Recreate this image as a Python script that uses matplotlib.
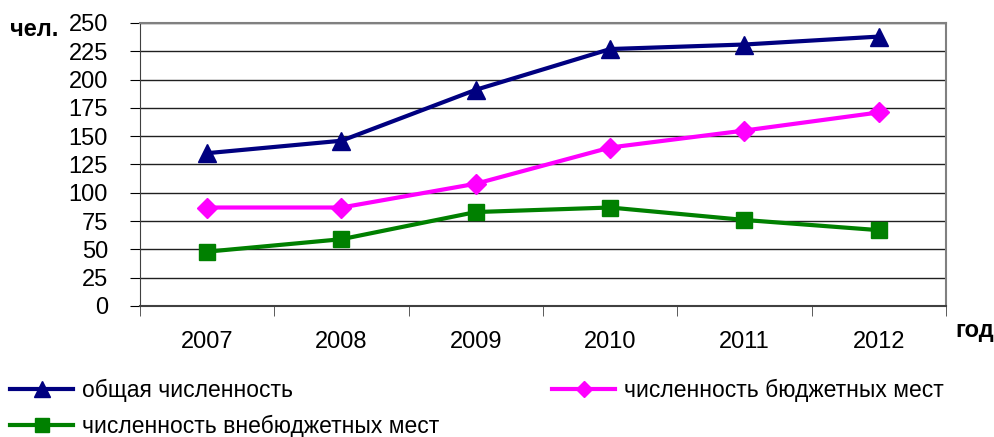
import numpy as np
import matplotlib
matplotlib.use("Agg")
import matplotlib.pyplot as plt

years = ["2007", "2008", "2009", "2010", "2011", "2012"]
total = [135, 146, 191, 227, 231, 238]
budget = [87, 87, 108, 140, 155, 171]
extra = [48, 59, 83, 87, 76, 67]

plt.rcParams["font.family"] = ["Liberation Sans", "DejaVu Sans"]

fig = plt.figure(figsize=(9.95, 4.37), dpi=100)
ax = fig.add_axes([140 / 995, 1 - 306 / 437, 806 / 995, 283 / 437])

x = np.arange(len(years))
l1, = ax.plot(x, total, color="#000080", lw=3, marker="^", ms=13, label="общая численность")
l2, = ax.plot(x, budget, color="#ff00ff", lw=3, marker="D", ms=10, label="численность бюджетных мест")
l3, = ax.plot(x, extra, color="#008000", lw=3, marker="s", ms=12, label="численность внебюджетных мест")

ax.set_xlim(-0.5, len(years) - 0.5)
ax.set_ylim(0, 250)
ax.set_yticks(np.arange(0, 251, 25))
ax.set_xticks(x)
ax.set_xticklabels(years)
ax.set_xticks(np.arange(-0.5, len(years), 1), minor=True)
ax.tick_params(axis="x", which="major", length=0, pad=18, labelsize=17)
ax.tick_params(axis="x", which="minor", length=7, direction="out", color="#404040")
ax.tick_params(axis="y", length=7, direction="out", labelsize=17, pad=16)
ax.grid(axis="y", color="#202020", lw=1)
ax.set_axisbelow(True)
for s in ["top", "right"]:
    ax.spines[s].set_color("#808080")
    ax.spines[s].set_linewidth(1.5)
ax.spines["left"].set_color("#404040")
ax.spines["bottom"].set_color("#404040")
ax.spines["bottom"].set_linewidth(1.5)

fig.text(10 / 995, 1 - 30 / 437, "чел.", fontsize=17, fontweight="bold", va="center")
fig.text(955 / 995, 1 - 331 / 437, "год", fontsize=17, fontweight="bold", va="center")

leg_kw = dict(loc="upper left", frameon=False, fontsize=16.5, handlelength=2.75,
              handletextpad=0.4, labelspacing=0.55, borderaxespad=0, borderpad=0,
              markerscale=0.85)
fig.legend([l1, l3], [l1.get_label(), l3.get_label()],
           bbox_to_anchor=(10 / 995, 1 - 379 / 437), **leg_kw)
fig.legend([l2], [l2.get_label()],
           bbox_to_anchor=(552 / 995, 1 - 379 / 437), **leg_kw)

fig.savefig("out.png", dpi=100)
